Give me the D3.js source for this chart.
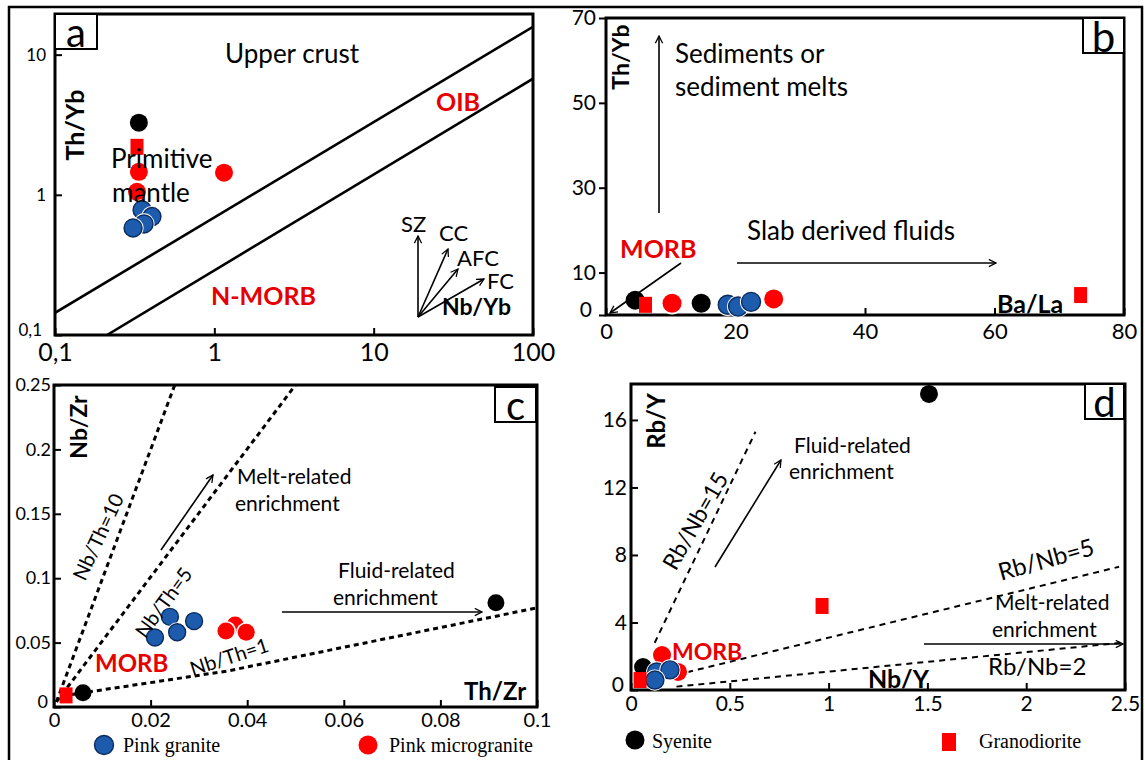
<!DOCTYPE html>
<html>
<head>
<meta charset="utf-8">
<script src="https://cdn.jsdelivr.net/npm/d3@7"></script>
<style>
  body { margin: 0; background: #fff; }
  svg text { font-family: Lato, "Open Sans", sans-serif; fill: #000; }
</style>
</head>
<body>
<svg id="fig" width="1145" height="760"></svg>
<script>
// ---------------- data ----------------
// (a) Nb/Yb vs Th/Yb  [x, y]
const aPinkGranite      = [[0.352, 0.78], [0.406, 0.70], [0.362, 0.62], [0.309, 0.58]];
const aPinkMicrogranite = [[0.327, 1.05], [0.336, 1.46], [1.15, 1.44]];
const aSyenite          = [[0.336, 3.27]];
const aGranodiorite     = [[0.327, 2.2]];
const aArrayUpper       = [[0.1, 0.144], [100, 15.8]];
const aArrayLower       = [[0.212, 0.1], [100, 6.74]];
const aXTicks = [0.1, 1, 10, 100];   const aXTickLabels = ["0,1", "1", "10", "100"];
const aYTicks = [0.1, 1, 10];        const aYTickLabels = ["0,1", "1", "10"];

// (b) Ba/La vs Th/Yb
const bPinkGranite      = [[18.8, 2.4], [20.4, 2.0], [22.4, 3.1]];
const bPinkMicrogranite = [[10.2, 2.75], [25.9, 3.8]];
const bSyenite          = [[4.5, 3.5], [14.7, 2.75]];
const bGranodiorite     = [[6.1, 2.4], [73.3, 4.7]];
const bXTicks = [0, 20, 40, 60, 80];
const bYTicks = [0, 10, 30, 50, 70];

// (c) Th/Zr vs Nb/Zr
const cPinkGranite      = [[0.0209, 0.054], [0.024, 0.070], [0.029, 0.0667], [0.0255, 0.058]];
const cPinkMicrogranite = [[0.0375, 0.0636], [0.0356, 0.059], [0.0398, 0.058]];
const cSyenite          = [[0.006, 0.011], [0.0915, 0.081]];
const cGranodiorite     = [[0.0025, 0.009]];
const cNbTh10 = [[0.0005, 0.004], [0.025, 0.25]];
const cNbTh5  = [[0.0005, 0.004], [0.05, 0.25]];
const cNbTh1  = [[0.0015, 0.0085], [0.036, 0.028], [0.1, 0.077]];
const cXTicks = [0, 0.02, 0.04, 0.06, 0.08, 0.1];
const cXTickLabels = ["0", "0.02", "0.04", "0.06", "0.08", "0.1"];
const cYTicks = [0, 0.05, 0.1, 0.15, 0.2, 0.25];
const cYTickLabels = ["0", "0.05", "0.1", "0.15", "0.2", "0.25"];

// (d) Nb/Y vs Rb/Y
const dPinkGranite      = [[0.13, 1.07], [0.197, 1.19], [0.121, 0.59]];
const dPinkMicrogranite = [[0.157, 2.07], [0.238, 1.07]];
const dSyenite          = [[0.061, 1.36], [1.508, 17.54]];
const dGranodiorite     = [[0.046, 0.59], [0.967, 4.98]];
const dRbNb15 = [[0.12, 2.8], [0.63, 15.3]];
const dRbNb5  = [[0.23, 0.9], [2.47, 7.3]];
const dRbNb2  = [[0.23, 0.2], [2.48, 2.8]];
const dXTicks = [0, 0.5, 1, 1.5, 2, 2.5];
const dXTickLabels = ["0", "0.5", "1", "1.5", "2", "2.5"];
const dYTicks = [0, 4, 8, 12, 16];

// ---------------- styles ----------------
const RED = "#ff0000", TEXTRED = "#e60000", BLUE = "#1d5cad", BLUE_EDGE = "#0c2b5e";

const svg = d3.select("#fig");
const defs = svg.append("defs");
defs.append("marker")
  .attr("id", "arrow").attr("viewBox", "0 0 10 10")
  .attr("refX", 9).attr("refY", 5)
  .attr("markerWidth", 9).attr("markerHeight", 9)
  .attr("markerUnits", "userSpaceOnUse")
  .attr("orient", "auto")
  .append("path").attr("d", "M1,1 L9,5 L1,9")
  .attr("fill", "none").attr("stroke", "#000").attr("stroke-width", 1.4);

// outer frame
svg.append("rect").attr("x", 9).attr("y", 7).attr("width", 1133).attr("height", 780)
  .attr("fill", "none").attr("stroke", "#000").attr("stroke-width", 2.5);

function drawPanel(p) {
  const g = svg.append("g");
  const [x0, x1] = p.x.range(), [y0, y1] = p.y.range();
  const clipId = "clip-" + p.id;
  defs.append("clipPath").attr("id", clipId)
    .append("rect").attr("x", x0).attr("y", y1).attr("width", x1 - x0).attr("height", y0 - y1);

  // axes
  const xa = g.append("g").attr("transform", `translate(0,${y0})`)
    .call(d3.axisBottom(p.x).tickValues(p.xTicks).tickFormat((d, i) => p.xLabels[i])
      .tickSizeInner(-7).tickSizeOuter(0).tickPadding(p.xPad));
  const ya = g.append("g").attr("transform", `translate(${x0},0)`)
    .call(d3.axisLeft(p.y).tickValues(p.yTicks).tickFormat((d, i) => p.yLabels[i])
      .tickSizeInner(p.yTickOut ? 7 : -7).tickSizeOuter(0).tickPadding(p.yPad));
  [xa, ya].forEach(a => {
    a.select(".domain").remove();
    a.selectAll(".tick line").attr("stroke", "#000").attr("stroke-width", 2);
    a.selectAll("text").attr("fill", "#000").style("font-family", "Lato, sans-serif");
  });
  xa.selectAll("text").style("font-size", p.xFont + "px");
  ya.selectAll("text").style("font-size", p.yFont + "px");
  // lift the lowest y label so it clears the first x label at the corner
  ya.select(".tick text").attr("transform", `translate(${p.cornerShift || 0},-5)`);

  // plot frame
  g.append("rect").attr("x", x0).attr("y", y1).attr("width", x1 - x0).attr("height", y0 - y1)
    .attr("fill", "none").attr("stroke", "#000").attr("stroke-width", 3);

  // reference lines
  const lineGen = d3.line().x(d => p.x(d[0])).y(d => p.y(d[1]));
  const lg = g.append("g").attr("clip-path", `url(#${clipId})`);
  p.lines.forEach(l => {
    lg.append("path").attr("d", lineGen(l.pts)).attr("fill", "none")
      .attr("stroke", "#000").attr("stroke-width", l.w)
      .attr("stroke-dasharray", l.dash || null);
  });

  // panel letter box
  const b = p.letterBox;
  g.append("rect").attr("x", b[0]).attr("y", b[1]).attr("width", b[2]).attr("height", b[3])
    .attr("fill", "#fff").attr("stroke", "#000").attr("stroke-width", 2);
  g.append("text").attr("x", b[0] + b[2] / 2).attr("y", b[1] + b[3] / 2)
    .attr("text-anchor", "middle").attr("dominant-baseline", "central")
    .style("font-size", p.letterSize + "px").text(p.letter);

  // annotation arrows (drawn before the points)
  p.arrows.forEach(a => {
    g.append("line").attr("x1", a[0]).attr("y1", a[1]).attr("x2", a[2]).attr("y2", a[3])
      .attr("stroke", "#000").attr("stroke-width", 1.6).attr("marker-end", "url(#arrow)");
  });

  // data points
  const r = p.r;
  const pts = g.append("g");
  const circleGroup = (data, fill, edge, halo) => {
    data.forEach(d => {
      const cx = p.x(d[0]), cy = p.y(d[1]);
      if (halo) pts.append("circle").attr("cx", cx).attr("cy", cy).attr("r", r + 1.6).attr("fill", "#fff");
      pts.append("circle").attr("cx", cx).attr("cy", cy).attr("r", r)
        .attr("fill", fill).attr("stroke", edge || "none").attr("stroke-width", edge ? 1.4 : 0);
    });
  };
  circleGroup(p.syenite, "#000", null, false);
  circleGroup(p.micro, RED, null, true);
  circleGroup(p.granite, BLUE, BLUE_EDGE, true);
  pts.selectAll("rect.gd").data(p.granodiorite).join("rect").attr("class", "gd")
    .attr("x", d => p.x(d[0]) - 6.5).attr("y", d => p.y(d[1]) - 8)
    .attr("width", 13).attr("height", 16).attr("fill", RED);

  // texts
  p.texts.forEach(t => {
    const el = g.append("text").style("font-size", t.s + "px").text(t.t);
    if (t.bold) el.style("font-weight", "bold");
    if (t.red) el.style("fill", TEXTRED);
    if (t.rot != null) {
      el.attr("transform", `translate(${t.x},${t.y}) rotate(${t.rot})`)
        .attr("text-anchor", "middle").attr("dominant-baseline", "central");
    } else {
      el.attr("x", t.x).attr("y", t.y);
    }
  });
  return g;
}

// ---------------- panel a ----------------
drawPanel({
  id: "a",
  x: d3.scaleLog().domain([0.1, 100]).range([55, 533]),
  y: d3.scaleLog().domain([0.1, 19.5]).range([335, 14]),
  xTicks: aXTicks, xLabels: aXTickLabels, yTicks: aYTicks, yLabels: aYTickLabels,
  xPad: 8, yPad: 9, xFont: 25, yFont: 17, r: 9, cornerShift: -4,
  lines: [{ pts: aArrayUpper, w: 2.6 }, { pts: aArrayLower, w: 2.6 }],
  letterBox: [55, 14, 42, 35], letter: "a", letterSize: 40,
  arrows: [[418, 317, 418, 236], [418, 317, 448, 249], [418, 317, 458, 269], [418, 317, 484, 279]],
  granite: aPinkGranite, micro: aPinkMicrogranite, syenite: aSyenite, granodiorite: aGranodiorite,
  texts: [
    { t: "Upper crust", x: 225, y: 63, s: 26 },
    { t: "OIB", x: 436, y: 111, s: 25, bold: true, red: true },
    { t: "N-MORB", x: 211, y: 305, s: 25, bold: true, red: true },
    { t: "Primitive", x: 111, y: 168, s: 26 },
    { t: "mantle", x: 112, y: 202, s: 26 },
    { t: "SZ", x: 401, y: 232, s: 22 },
    { t: "CC", x: 439, y: 241, s: 22 },
    { t: "AFC", x: 457, y: 266, s: 22 },
    { t: "FC", x: 487, y: 289, s: 22 },
    { t: "Nb/Yb", x: 442, y: 315, s: 23, bold: true },
    { t: "Th/Yb", x: 74, y: 125, s: 25, bold: true, rot: -90 }
  ]
});

// ---------------- panel b ----------------
drawPanel({
  id: "b",
  x: d3.scaleLinear().domain([0, 80]).range([606, 1124]),
  y: d3.scaleLinear().domain([0, 70]).range([315, 18]),
  xTicks: bXTicks, xLabels: bXTicks.map(String), yTicks: bYTicks, yLabels: bYTicks.map(String),
  yTickOut: true, xPad: 8, yPad: 3, xFont: 22, yFont: 21, r: 9.5, cornerShift: -4,
  lines: [],
  letterBox: [1083, 18, 41, 35], letter: "b", letterSize: 42,
  arrows: [[659, 213, 659, 36], [737, 263, 996, 263], [681, 263, 610, 313]],
  granite: bPinkGranite, micro: bPinkMicrogranite, syenite: bSyenite, granodiorite: bGranodiorite,
  texts: [
    { t: "Sediments or", x: 675, y: 63, s: 26 },
    { t: "sediment melts", x: 675, y: 96, s: 26 },
    { t: "Slab derived fluids", x: 747, y: 240, s: 26 },
    { t: "MORB", x: 620, y: 258, s: 25, bold: true, red: true },
    { t: "Ba/La", x: 997, y: 313, s: 25, bold: true },
    { t: "Th/Yb", x: 620, y: 57, s: 23, bold: true, rot: -90 }
  ]
});

// ---------------- panel c ----------------
drawPanel({
  id: "c",
  x: d3.scaleLinear().domain([0, 0.1]).range([54, 537]),
  y: d3.scaleLinear().domain([0, 0.25]).range([707, 385]),
  xTicks: cXTicks, xLabels: cXTickLabels, yTicks: cYTicks, yLabels: cYTickLabels,
  xPad: 6, yPad: 3, xFont: 20, yFont: 18, r: 8.5, cornerShift: -3,
  lines: [
    { pts: cNbTh10, w: 3, dash: "5,4" },
    { pts: cNbTh5, w: 3, dash: "5,4" },
    { pts: cNbTh1, w: 3, dash: "5,4" }
  ],
  letterBox: [495, 387, 41, 35], letter: "c", letterSize: 40,
  arrows: [[161, 550, 213, 475], [282, 612, 482, 612]],
  granite: cPinkGranite, micro: cPinkMicrogranite, syenite: cSyenite, granodiorite: cGranodiorite,
  texts: [
    { t: "Melt-related", x: 237, y: 484, s: 21 },
    { t: "enrichment", x: 235, y: 511, s: 21 },
    { t: "Fluid-related", x: 338, y: 578, s: 21 },
    { t: "enrichment", x: 333, y: 605, s: 21 },
    { t: "MORB", x: 95, y: 672, s: 24, bold: true, red: true },
    { t: "Th/Zr", x: 464, y: 700, s: 24, bold: true },
    { t: "Nb/Zr", x: 78, y: 427, s: 23, bold: true, rot: -90 },
    { t: "Nb/Th=10", x: 97.5, y: 536.5, s: 20, rot: -64.8 },
    { t: "Nb/Th=5", x: 163, y: 602, s: 20, rot: -53.7 },
    { t: "Nb/Th=1", x: 229, y: 656, s: 20, rot: -18 }
  ]
});

// ---------------- panel d ----------------
drawPanel({
  id: "d",
  x: d3.scaleLinear().domain([0, 2.5]).range([631, 1125]),
  y: d3.scaleLinear().domain([0, 18.13]).range([690, 384]),
  xTicks: dXTicks, xLabels: dXTickLabels, yTicks: dYTicks, yLabels: dYTicks.map(String),
  xPad: 6, yPad: 4, xFont: 21, yFont: 21, r: 9, cornerShift: -3,
  lines: [
    { pts: dRbNb15, w: 2, dash: "6,5" },
    { pts: dRbNb5, w: 2, dash: "6,5" },
    { pts: dRbNb2, w: 2, dash: "6,5" }
  ],
  letterBox: [1085, 384, 39, 35], letter: "d", letterSize: 40,
  arrows: [[715, 567, 781, 460], [924, 644, 1123, 644]],
  granite: dPinkGranite, micro: dPinkMicrogranite, syenite: dSyenite, granodiorite: dGranodiorite,
  texts: [
    { t: "Fluid-related", x: 794, y: 453, s: 21 },
    { t: "enrichment", x: 789, y: 479, s: 21 },
    { t: "Melt-related", x: 995, y: 610, s: 21 },
    { t: "enrichment", x: 992, y: 637, s: 21 },
    { t: "Rb/Nb=2", x: 988, y: 675, s: 24 },
    { t: "MORB", x: 672, y: 660, s: 23, bold: true, red: true },
    { t: "Nb/Y", x: 868, y: 688, s: 25, bold: true },
    { t: "Rb/Y", x: 655, y: 421, s: 24, bold: true, rot: -90 },
    { t: "Rb/Nb=15", x: 694.6, y: 520.5, s: 23, rot: -60.3 },
    { t: "Rb/Nb=5", x: 1045.8, y: 558.5, s: 24, rot: -15.5 }
  ]
});

// ---------------- legend ----------------
const leg = svg.append("g");
const legendItems = [
  { label: "Pink granite",      shape: "circle", fill: BLUE, edge: BLUE_EDGE, cx: 104, cy: 745, tx: 123, ty: 752 },
  { label: "Pink microgranite", shape: "circle", fill: RED,  edge: null,      cx: 368, cy: 745, tx: 389, ty: 752 },
  { label: "Syenite",           shape: "circle", fill: "#000", edge: null,    cx: 635, cy: 740, tx: 652, ty: 748 },
  { label: "Granodiorite",      shape: "square", fill: RED,  edge: null,      cx: 949, cy: 742, tx: 979, ty: 748 }
];
legendItems.forEach(it => {
  if (it.shape === "circle") {
    leg.append("circle").attr("cx", it.cx).attr("cy", it.cy).attr("r", 9.5)
      .attr("fill", it.fill).attr("stroke", it.edge || "none").attr("stroke-width", 1.4);
  } else {
    leg.append("rect").attr("x", it.cx - 7).attr("y", it.cy - 9).attr("width", 14).attr("height", 18)
      .attr("fill", it.fill);
  }
  leg.append("text").attr("x", it.tx).attr("y", it.ty)
    .style("font-family", "'Liberation Serif', serif").style("font-size", "20px").text(it.label);
});
</script>
</body>
</html>
